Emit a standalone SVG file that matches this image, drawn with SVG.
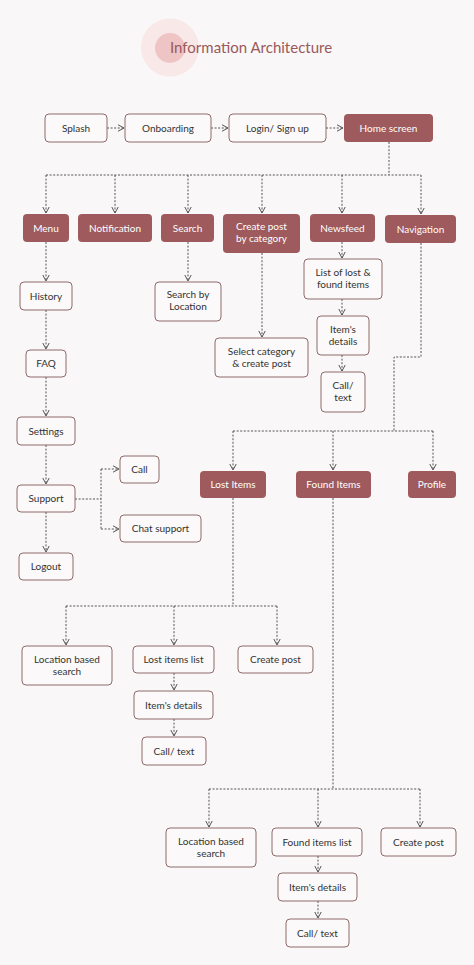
<svg xmlns="http://www.w3.org/2000/svg" width="474" height="965" viewBox="0 0 474 965">
<defs>
<marker id="ah" viewBox="0 0 8 8" refX="7" refY="4" markerWidth="8" markerHeight="8" markerUnits="userSpaceOnUse" orient="auto">
<path d="M1,0.8 L7,4 L1,7.2" fill="none" stroke="#555" stroke-width="1"/>
</marker>
</defs>
<style>
.f rect{fill:#9e5a5c;stroke:none}
.o rect{fill:#fbf9f9;stroke:#8f6a6b;stroke-width:1}
text{font-family:Lato,"Noto Sans","Liberation Sans",sans-serif;font-size:10px;text-anchor:middle}
.f text{fill:#ffffff}
.o text{fill:#333333}
.c path{fill:none;stroke:#555;stroke-width:1;stroke-dasharray:2 1.6}
.c path.a{marker-end:url(#ah)}
</style>
<rect width="474" height="965" fill="#f9f7f7"/>
<g id="title">
<circle cx="170" cy="47.5" r="29" fill="#f9e8e8"/>
<circle cx="170" cy="48" r="15" fill="#efc4c5"/>
<text x="170" y="52.5" style="text-anchor:start;font-size:15px;fill:#9a5a5c">Information Architecture</text>
</g>
<g class="c" id="connectors">
<path class="a" d="M107,128 H124"/>
<path class="a" d="M211,128 H228"/>
<path class="a" d="M326,128 H343"/>
<path d="M389,142 V175"/>
<path d="M46,175 H421"/>
<path class="a" d="M46,175 V213"/>
<path class="a" d="M115,175 V213"/>
<path class="a" d="M188,175 V213"/>
<path class="a" d="M262,175 V213"/>
<path class="a" d="M342,175 V213"/>
<path class="a" d="M421,175 V214"/>
<path class="a" d="M46,242 V281"/>
<path class="a" d="M46,310 V349"/>
<path class="a" d="M46,377 V416"/>
<path class="a" d="M46,445 V484"/>
<path class="a" d="M46,512 V552"/>
<path d="M75,499 H101"/>
<path d="M101,469 V529"/>
<path class="a" d="M101,469 H119"/>
<path class="a" d="M101,529 H119"/>
<path class="a" d="M188,242 V281"/>
<path class="a" d="M262,253 V337"/>
<path class="a" d="M342,242 V258"/>
<path class="a" d="M342,299 V315"/>
<path class="a" d="M342,355 V371"/>
<path d="M421,243 V357 H394 V431"/>
<path d="M233,431 H433"/>
<path class="a" d="M233,431 V470"/>
<path class="a" d="M333,431 V470"/>
<path class="a" d="M433,431 V470"/>
<path d="M233,498 V606"/>
<path d="M66,606 H277"/>
<path class="a" d="M66,606 V645"/>
<path class="a" d="M174,606 V645"/>
<path class="a" d="M277,606 V645"/>
<path class="a" d="M174,673 V690"/>
<path class="a" d="M174,719 V736"/>
<path d="M333,498 V789"/>
<path d="M209,789 H420"/>
<path class="a" d="M209,789 V827"/>
<path class="a" d="M318,789 V827"/>
<path class="a" d="M420,789 V827"/>
<path class="a" d="M318,856 V872"/>
<path class="a" d="M318,901 V918"/>
</g>
<g id="splash" class="o"><rect x="45" y="114" width="62" height="28" rx="4"/><text x="76" y="131.5">Splash</text></g>
<g id="onboarding" class="o"><rect x="125" y="114" width="86" height="28" rx="4"/><text x="168" y="131.5">Onboarding</text></g>
<g id="login" class="o"><rect x="229" y="114" width="97" height="28" rx="4"/><text x="277.5" y="131.5">Login/ Sign up</text></g>
<g id="home" class="f"><rect x="344" y="114" width="89" height="28" rx="4"/><text x="388.5" y="131.5">Home screen</text></g>
<g id="menu" class="f"><rect x="23" y="214" width="46" height="28" rx="4"/><text x="46" y="231.5">Menu</text></g>
<g id="notification" class="f"><rect x="78" y="214" width="74" height="28" rx="4"/><text x="115" y="231.5">Notification</text></g>
<g id="search" class="f"><rect x="161" y="214" width="53" height="28" rx="4"/><text x="187.5" y="231.5">Search</text></g>
<g id="createpost" class="f"><rect x="223" y="214" width="77" height="39" rx="4"/><text x="261.5" y="230">Create post</text><text x="261.5" y="242">by category</text></g>
<g id="newsfeed" class="f"><rect x="310" y="214" width="65" height="28" rx="4"/><text x="342.5" y="231.5">Newsfeed</text></g>
<g id="navigation" class="f"><rect x="385" y="215" width="71" height="28" rx="4"/><text x="420.5" y="232.5">Navigation</text></g>
<g id="history" class="o"><rect x="20" y="282" width="52" height="28" rx="4"/><text x="46" y="299.5">History</text></g>
<g id="faq" class="o"><rect x="26" y="350" width="40" height="27" rx="4"/><text x="46" y="367">FAQ</text></g>
<g id="settings" class="o"><rect x="17" y="417" width="58" height="28" rx="4"/><text x="46" y="434.5">Settings</text></g>
<g id="support" class="o"><rect x="17" y="485" width="58" height="27" rx="4"/><text x="46" y="502">Support</text></g>
<g id="logout" class="o"><rect x="19" y="553" width="54" height="27" rx="4"/><text x="46" y="570">Logout</text></g>
<g id="call" class="o"><rect x="120" y="456" width="39" height="27" rx="4"/><text x="139.5" y="473">Call</text></g>
<g id="chat" class="o"><rect x="120" y="515" width="81" height="27" rx="4"/><text x="160.5" y="532">Chat support</text></g>
<g id="searchloc" class="o"><rect x="155" y="282" width="66" height="39" rx="4"/><text x="188" y="298">Search by</text><text x="188" y="310">Location</text></g>
<g id="selectcat" class="o"><rect x="215" y="338" width="93" height="39" rx="4"/><text x="261.5" y="355">Select category</text><text x="261.5" y="367">&amp; create post</text></g>
<g id="listlost" class="o"><rect x="304" y="259" width="78" height="40" rx="4"/><text x="343" y="276">List of lost &amp;</text><text x="343" y="288">found items</text></g>
<g id="itemdetails1" class="o"><rect x="317" y="316" width="52" height="39" rx="4"/><text x="343" y="333">Item's</text><text x="343" y="345">details</text></g>
<g id="calltext1" class="o"><rect x="321" y="372" width="44" height="40" rx="4"/><text x="343" y="389">Call/</text><text x="343" y="401">text</text></g>
<g id="lostitems" class="f"><rect x="200" y="471" width="66" height="27" rx="4"/><text x="233" y="488">Lost Items</text></g>
<g id="founditems" class="f"><rect x="296" y="471" width="75" height="27" rx="4"/><text x="333.5" y="488">Found Items</text></g>
<g id="profile" class="f"><rect x="408" y="471" width="48" height="27" rx="4"/><text x="432" y="488">Profile</text></g>
<g id="locsearch1" class="o"><rect x="22" y="646" width="90" height="39" rx="4"/><text x="67" y="663">Location based</text><text x="67" y="675">search</text></g>
<g id="lostlist" class="o"><rect x="133" y="646" width="81" height="27" rx="4"/><text x="173.5" y="663">Lost items list</text></g>
<g id="createpost1" class="o"><rect x="238" y="646" width="75" height="27" rx="4"/><text x="275.5" y="663">Create post</text></g>
<g id="itemdetails2" class="o"><rect x="134" y="691" width="79" height="28" rx="4"/><text x="173.5" y="708.5">Item's details</text></g>
<g id="calltext2" class="o"><rect x="142" y="737" width="64" height="28" rx="4"/><text x="174" y="754.5">Call/ text</text></g>
<g id="locsearch2" class="o"><rect x="166" y="828" width="90" height="39" rx="4"/><text x="211" y="845">Location based</text><text x="211" y="857">search</text></g>
<g id="foundlist" class="o"><rect x="272" y="828" width="90" height="28" rx="4"/><text x="317" y="845.5">Found items list</text></g>
<g id="createpost2" class="o"><rect x="381" y="828" width="75" height="28" rx="4"/><text x="418.5" y="845.5">Create post</text></g>
<g id="itemdetails3" class="o"><rect x="278" y="873" width="79" height="28" rx="4"/><text x="317.5" y="890.5">Item's details</text></g>
<g id="calltext3" class="o"><rect x="286" y="919" width="63" height="28" rx="4"/><text x="317.5" y="936.5">Call/ text</text></g>
</svg>
